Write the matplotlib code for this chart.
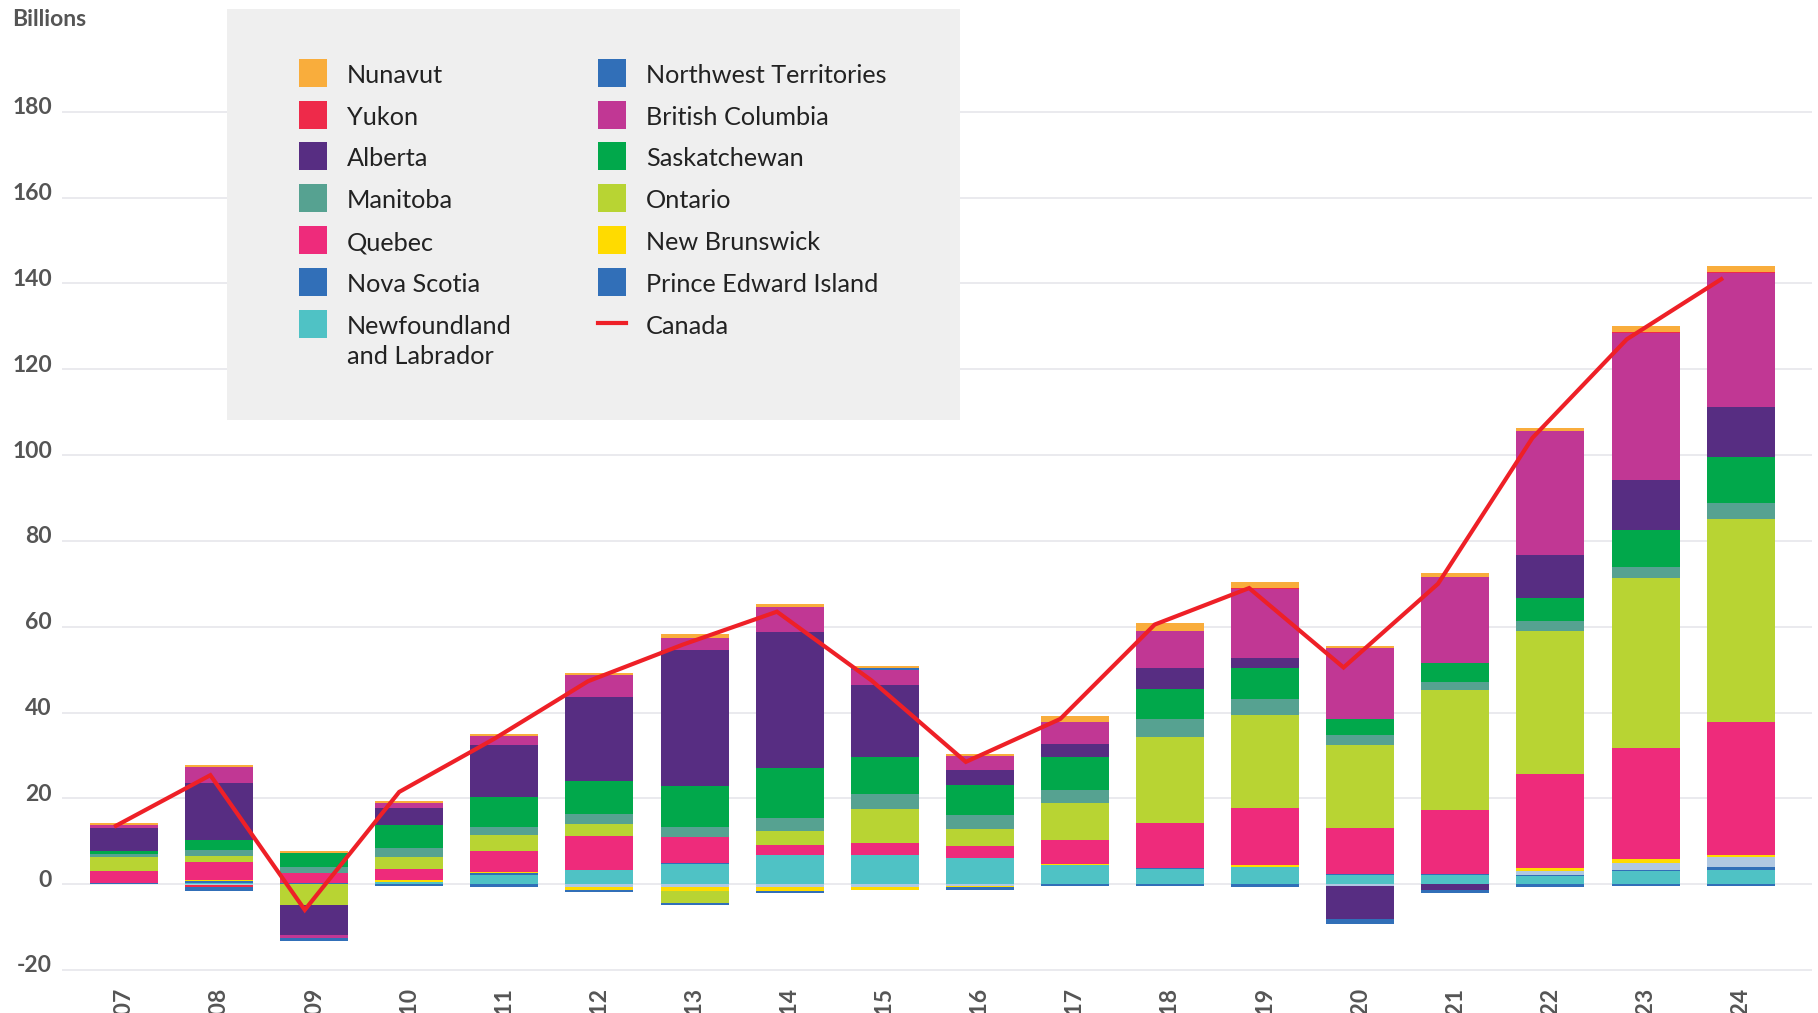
import matplotlib
matplotlib.use("Agg")
import matplotlib.pyplot as plt
import matplotlib.transforms as mtransforms
from matplotlib.patches import Rectangle
from matplotlib.lines import Line2D
import numpy as np

plt.rcParams['font.family'] = ['Lato', 'DejaVu Sans']

years = [str(y) for y in range(2007, 2025)]

# Series in stacking order (bottom-up)
series_names = ["Newfoundland\nand Labrador", "Prince Edward Island", "Nova Scotia",
                "New Brunswick", "Quebec", "Ontario", "Manitoba", "Saskatchewan",
                "Alberta", "British Columbia", "Yukon", "Northwest Territories", "Nunavut"]

nl  = [0.1, 0.3, 0.0, 0.6, 2.2, 3.4, 4.6, 6.7, 6.9, 6.0, 4.4, 3.6, 4.1, 2.1, 2.1, 1.9, 3.0, 3.4]
pei = [0.25, 0.4, 0.3, 0.0, 0.45, 0.0, 0.3, 0.0, 0.0, 0.0, 0.15, 0.2, 0.0, 0.2, 0.2, 0.2, 0.4, 0.7]
ns  = [0.0, -0.3, 0.0, 0.0, 0.0, -0.7, -0.7, -0.7, -0.7, -0.5, 0.0, 0.0, 0.0, -0.5, 0.0, 0.9, 1.5, 2.3]
nb  = [0.0, 0.25, 0.0, 0.45, 0.25, -0.7, -0.9, -0.9, -0.7, -0.25, 0.25, 0.0, 0.25, 0.0, 0.0, 0.8, 1.0, 0.5]
qc  = [2.7, 4.2, 2.3, 2.6, 4.8, 7.9, 6.0, 2.4, 2.8, 3.0, 5.6, 10.5, 13.3, 10.8, 14.9, 21.9, 25.8, 30.8]
on  = [3.3, 1.4, -4.8, 2.6, 3.7, 2.8, -2.8, 3.2, 7.9, 3.9, 8.4, 20.0, 21.7, 19.3, 28.0, 33.3, 39.6, 47.5]
mb  = [0.7, 1.4, 1.4, 2.1, 1.9, 2.2, 2.4, 3.1, 3.5, 3.3, 3.2, 4.1, 3.8, 2.3, 2.0, 2.3, 2.7, 3.7]
sk  = [0.7, 2.3, 3.3, 5.4, 7.0, 7.8, 9.5, 11.6, 8.5, 7.0, 7.6, 7.0, 7.3, 3.8, 4.3, 5.3, 8.6, 10.7]
ab  = [5.4, 13.3, -7.0, 4.0, 12.1, 19.5, 31.8, 31.8, 16.8, 3.4, 3.0, 4.9, 2.3, -7.7, -1.4, 10.0, 11.6, 11.5]
bc  = [0.7, 3.7, -0.7, 1.2, 2.2, 5.1, 2.8, 5.8, 3.5, 3.3, 5.3, 8.6, 16.0, 16.5, 20.0, 28.9, 34.2, 31.4]
yt  = [0.0, -0.4, 0.0, 0.0, 0.0, 0.0, 0.0, 0.0, 0.0, 0.0, 0.0, 0.0, 0.2, 0.0, 0.0, 0.2, 0.2, 0.2]
nt  = [0.0, -0.8, -0.7, -0.5, -0.7, -0.5, -0.5, -0.5, 0.5, -0.5, -0.5, -0.5, -0.7, -1.1, -0.7, -0.7, -0.5, -0.5]
nu  = [0.5, 0.45, 0.45, 0.45, 0.5, 0.5, 0.8, 0.6, 0.5, 0.4, 1.2, 1.9, 1.4, 0.6, 1.1, 0.7, 1.4, 1.4]
canada = [13.6, 25.4, -6.0, 21.5, 33.8, 47.3, 55.8, 63.5, 47.5, 28.5, 38.5, 60.5, 69.0, 50.5, 70.0, 104.0, 127.0, 141.0]

series_values = [nl, pei, ns, nb, qc, on, mb, sk, ab, bc, yt, nt, nu]
bar_colors = ['#4fc2c5', '#316fb8', '#b0c8e2', '#ffdb00', '#ee2b7b', '#b8d433',
              '#56a291', '#01a84b', '#572d82', '#c13794', '#ee2a4a', '#316fb8', '#f9ad3c']
legend_colors = ['#4fc2c5', '#316fb8', '#316fb8', '#ffdb00', '#ee2b7b', '#b8d433',
                 '#56a291', '#01a84b', '#572d82', '#c13794', '#ee2a4a', '#316fb8', '#f9ad3c']
canada_color = '#ee2027'
y_ticks = list(range(-20, 181, 20))

W, H = 1818, 1013
fig = plt.figure(figsize=(W / 100, H / 100), dpi=100)
fig.patch.set_facecolor('white')


def fx(px):
    return px / W


def fy(py):
    return 1 - py / H


ax = fig.add_axes([fx(62), fy(988), fx(1812) - fx(62), fy(20) - fy(988)])
ax.set_facecolor('white')
x = np.arange(len(years))
pos_base = np.zeros(len(years))
neg_base = np.zeros(len(years))
for vals, col in zip(series_values, bar_colors):
    v = np.array(vals, dtype=float)
    bottom = np.where(v >= 0, pos_base, neg_base)
    ax.bar(x, v, bottom=bottom, width=0.715, color=col, linewidth=0, zorder=2)
    pos_base = pos_base + np.where(v > 0, v, 0)
    neg_base = neg_base + np.where(v < 0, v, 0)

line_x = x * 0.993 - 0.085
ax.plot(line_x, canada, color=canada_color, lw=3.0, zorder=3, solid_joinstyle='miter')

ax.set_xlim(-0.652, 17.75)
ax.set_ylim(-24.2, 201.4)
ax.set_yticks(y_ticks)
ax.set_yticklabels([str(t) for t in y_ticks])
ax.grid(axis='y', color='#e4e4ea', lw=1.1, zorder=0)
ax.set_axisbelow(True)
for s in ax.spines.values():
    s.set_visible(False)
ax.tick_params(axis='y', length=0, pad=7.2, labelsize=16.5, labelcolor='#555555')
ax.tick_params(axis='x', length=0, pad=0, labelsize=16.5, labelcolor='#555555')
ax.set_xticks(x)
ax.set_xticklabels(years, rotation=90, va='top', ha='center')
for lab in ax.get_yticklabels() + ax.get_xticklabels():
    lab.set_fontweight('bold')
offset = mtransforms.ScaledTranslation(0, 6 / 100, fig.dpi_scale_trans)
for lab in ax.get_yticklabels():
    lab.set_transform(lab.get_transform() + offset)

fig.text(fx(12), fy(20), 'Billions', fontsize=16.5, fontweight='bold', color='#555555',
         ha='left', va='center')

# Legend box
fig.add_artist(Rectangle((fx(227), fy(420)), fx(960) - fx(227), fy(9) - fy(420),
                         transform=fig.transFigure, facecolor='#efefef', edgecolor='none', zorder=5))
legend_order = list(range(len(series_names)))[::-1]  # top of stack first
entries = [(series_names[i], legend_colors[i], 'patch') for i in legend_order] + [('Canada', canada_color, 'line')]
row_y = [73.0, 114.8, 156.5, 198.3, 240.0, 281.7, 323.5]
col_patch_x = [299, 598]
col_text_x = [347, 646]
for k, (name, col, kind) in enumerate(entries):
    c = k % 2
    r = k // 2
    yc = row_y[r]
    if kind == 'patch':
        fig.add_artist(Rectangle((fx(col_patch_x[c]), fy(yc + 14)), fx(28), fy(0) - fy(28),
                                 transform=fig.transFigure, facecolor=col, edgecolor='none', zorder=6))
    else:
        fig.add_artist(Line2D([fx(col_patch_x[c]), fx(col_patch_x[c] + 28)], [fy(yc), fy(yc)],
                              transform=fig.transFigure, color=col, lw=3, zorder=6))
    for j, part in enumerate(name.split('\n')):
        fig.text(fx(col_text_x[c]), fy(yc + 2.5 + j * 30.5), part, fontsize=18.2, color='#222222',
                 ha='left', va='center', zorder=7)

fig.savefig('out.png', dpi=100)
